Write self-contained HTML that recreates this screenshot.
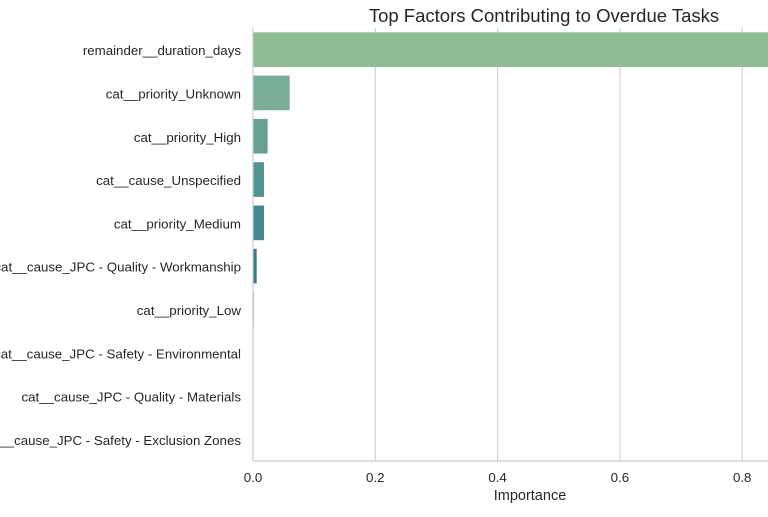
<!DOCTYPE html>
<html><head><meta charset="utf-8"><style>
body{margin:0;background:#fff;width:768px;height:512px;overflow:hidden;font-family:"Liberation Sans",sans-serif}
</style></head><body>
<svg id="chart" width="768" height="512" style="font-family:'Liberation Sans',sans-serif"></svg>
<script>
const categories=["remainder__duration_days","cat__priority_Unknown","cat__priority_High","cat__cause_Unspecified","cat__priority_Medium","cat__cause_JPC - Quality - Workmanship","cat__priority_Low","cat__cause_JPC - Safety - Environmental","cat__cause_JPC - Quality - Materials","cat__cause_JPC - Safety - Exclusion Zones"];
const importances=[0.87,0.060,0.024,0.018,0.018,0.006,0.002,0.0004,0.0003,0.0002];
const colors=["#8fbc94","#78ad96","#66a093","#549390","#46878d","#3c7b8a","#b4d0de","#c8dbe6","#d8e5ec","#e2ecf1"];
const xTicks=[0,0.2,0.4,0.6,0.8];
const xTickLabels=["0.0","0.2","0.4","0.6","0.8"];
const NS="http://www.w3.org/2000/svg";
const svg=document.getElementById('chart');
const L=253,R=768,T=28,B=461;
const x=v=>L+v/0.2*122.3;
const band=(B-T)/categories.length;
const y=i=>T+band*i;
function mk(tag,attrs,parent){const e=document.createElementNS(NS,tag);for(const k in attrs)e.setAttribute(k,attrs[k]);(parent||svg).appendChild(e);return e;}
xTicks.forEach((t,i)=>{
  const g=mk('line',{x1:x(t),x2:x(t),y1:T,y2:B,stroke:'#cccccc','stroke-width':1});
  
  
  const lb=mk('text',{x:x(t),y:482,'text-anchor':'middle','font-size':13.3,fill:'#262626'});
  lb.textContent=xTickLabels[i];
  
  
});
categories.forEach((c,i)=>{
  const cy=y(i)+band/2;
  const r=mk('rect',{x:L,y:cy-band*0.4,width:Math.max(x(importances[i])-L,0.3),height:band*0.8,fill:colors[i]});
  
  
  const t=mk('text',{x:241,y:cy+5.5,'text-anchor':'end','font-size':13.3,fill:'#262626'});
  t.textContent=c;
  
  
});
const ax=mk('line',{x1:L,x2:L,y1:T,y2:B,stroke:'#cccccc','stroke-width':1.2});


const bx=mk('line',{x1:L,x2:R,y1:B,y2:B,stroke:'#cccccc','stroke-width':1.2});


const xt=mk('text',{x:530,y:500,'text-anchor':'middle','font-size':14.5,fill:'#262626'});
xt.textContent='Importance';


const tt=mk('text',{x:544,y:22,'text-anchor':'middle','font-size':18.5,fill:'#262626'});
tt.textContent='Top Factors Contributing to Overdue Tasks';


</script>
</body></html>
